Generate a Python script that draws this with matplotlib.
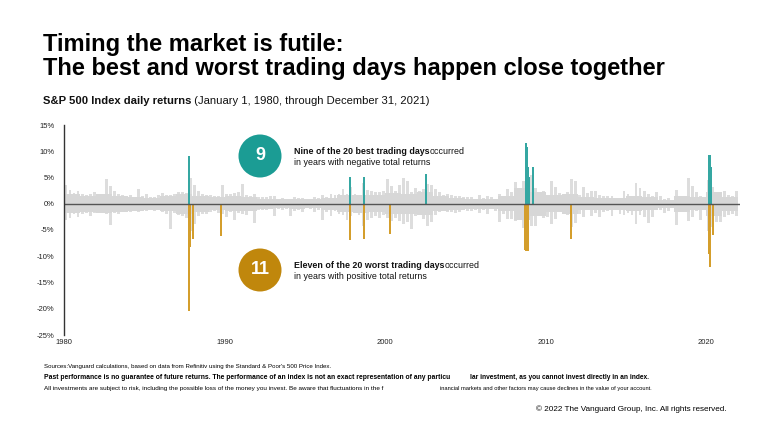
import matplotlib.pyplot as plt
import matplotlib.patches as mpatches
import numpy as np
import pandas as pd

W, H = 781, 429
FONT = ["Liberation Sans", "DejaVu Sans"]
plt.rcParams["font.family"] = FONT

TEAL_DOT = "#1b9c94"
GOLD_DOT = "#c0870c"
TEAL_BAR = "#35a7a2"
GOLD_BAR = "#d49e2c"
GREY_BODY = "#d7d7d7"
GREY_SPIKE = "#dddddd"

# typical size of the daily moves in each year, %, 1980 .. 2021 (the dense grey body)
body_years = list(range(1980, 2022))
grey_body = [
    1.8, 1.5, 1.8, 1.5, 1.3, 1.1, 1.4, 1.9, 1.5, 1.2,
    1.4, 1.3, 1.0, 0.9, 1.0, 0.9, 1.1, 1.6, 1.7, 1.6,
    2.0, 1.9, 2.2, 1.4, 1.1, 1.0, 1.0, 1.4, 3.0, 2.3,
    1.6, 1.9, 1.2, 1.1, 1.1, 1.4, 1.2, 0.8, 1.5, 1.2,
    2.3, 1.3,
]

# quarterly extremes of the daily return, %, 1980Q1 .. 2021Q4
grey_max = [
    3.5, 2.6, 2.0, 2.4,  1.8, 1.7, 1.9, 2.3,  1.8, 1.6, 4.8, 3.3,  2.4, 1.9, 1.7, 1.5,
    1.6, 1.3, 2.9, 1.5,  1.8, 1.2, 1.3, 1.7,  2.0, 1.7, 1.6, 1.9,  2.3, 2.2, 2.0, 4.9,
    3.6, 2.5, 1.8, 1.6,  1.6, 1.5, 1.4, 3.5,  1.9, 1.8, 2.0, 2.3,  3.7, 1.7, 1.4, 1.9,
    1.3, 1.3, 1.2, 1.4,  1.4, 1.0, 1.1, 1.0,  1.0, 1.2, 1.1, 1.1,  0.9, 1.0, 1.2, 1.1,
    1.6, 1.2, 1.8, 1.6,  1.8, 2.9, 1.8, 3.2,  1.9, 1.6, 3.9, 2.7,  2.4, 2.2, 2.2, 2.4,
    4.8, 3.4, 2.5, 3.6,  5.0, 4.4, 2.3, 3.0,  2.5, 2.8, 3.8, 3.5,  2.9, 2.3, 1.6, 1.8,
    1.6, 1.4, 1.4, 1.3,  1.2, 1.2, 1.0, 1.7,  1.1, 1.4, 1.3, 0.9,  1.9, 1.4, 2.9, 2.2,
    4.2, 2.8, 4.3, 4.8,  5.4, 3.0, 2.3, 2.5,  1.7, 4.4, 3.1, 2.1,  1.9, 2.3, 4.7, 4.3,
    1.6, 3.2, 2.0, 2.5,  2.5, 1.6, 1.4, 1.4,  1.5, 1.1, 1.1, 2.4,  1.9, 1.2, 3.9, 3.0,
    2.5, 1.8, 1.5, 2.2,  1.4, 0.9, 1.1, 0.8,  2.7, 1.2, 1.1, 5.0,  3.4, 2.3, 1.5, 1.3,
    4.6, 3.2, 2.0, 2.2,  2.4, 1.7, 1.5, 2.4,
]
grey_min = [
    -3.0, -2.8, -1.9, -2.6,  -2.0, -1.8, -2.4, -1.7,  -1.8, -1.7, -2.0, -4.0,  -1.8, -1.9, -1.6, -1.6,
    -1.6, -1.4, -1.5, -1.4,  -1.4, -1.1, -1.3, -1.1,  -1.6, -1.9, -4.8, -1.7,  -2.1, -2.3, -2.8, -5.2,
    -3.9, -2.4, -2.0, -1.9,  -1.6, -1.4, -1.7, -2.0,  -2.6, -1.6, -3.1, -1.8,  -1.9, -2.1, -1.3, -3.7,
    -1.1, -1.2, -1.1, -1.0,  -2.4, -1.0, -1.1, -1.0,  -2.3, -1.3, -1.2, -1.5,  -0.8, -1.0, -1.6, -1.1,
    -3.1, -1.5, -2.4, -1.4,  -2.0, -2.2, -3.1, -2.3,  -1.8, -2.1, -4.3, -3.0,  -2.8, -2.4, -2.7, -2.1,
    -2.8, -3.3, -2.7, -3.2,  -3.8, -3.4, -4.9, -2.3,  -2.0, -2.9, -4.2, -3.5,  -2.1, -1.6, -1.4, -1.6,
    -1.5, -1.7, -1.6, -1.1,  -1.4, -1.3, -1.1, -1.7,  -1.1, -1.9, -1.0, -1.4,  -3.5, -2.0, -2.9, -2.9,
    -3.3, -2.8, -4.7, -4.8,  -4.3, -4.3, -2.3, -2.7,  -2.6, -3.9, -2.9, -1.6,  -1.9, -2.2, -4.5, -3.7,
    -1.9, -2.5, -1.2, -2.4,  -1.8, -2.5, -1.6, -1.4,  -2.3, -1.0, -2.0, -2.1,  -1.8, -2.1, -3.9, -2.2,
    -2.5, -3.6, -2.5, -1.1,  -1.2, -1.8, -1.4, -0.5,  -4.1, -1.4, -0.7, -3.3,  -2.5, -1.3, -3.0, -1.2,
    -5.2, -4.4, -3.5, -3.5,  -2.6, -2.1, -2.0, -2.3,
]

best_dates = ["1987-10-20", "1987-10-21", "1997-10-28", "1998-09-08", "2002-07-24",
              "2002-07-29", "2008-09-30", "2008-10-13", "2008-10-28", "2008-11-13",
              "2008-11-21", "2008-11-24", "2008-12-16", "2009-03-10", "2009-03-23",
              "2020-03-13", "2020-03-17", "2020-03-24", "2020-03-26", "2020-04-06"]
best_returns = [5.33, 9.10, 5.12, 5.09, 5.73, 5.41, 5.42, 11.58, 10.79, 6.92,
                6.32, 6.47, 5.14, 6.37, 7.08, 9.29, 6.00, 9.38, 6.24, 7.03]

worst_dates = ["1987-10-19", "1987-10-26", "1988-01-08", "1989-10-13", "1997-10-27",
               "1998-08-31", "2000-04-14", "2008-09-29", "2008-10-07", "2008-10-09",
               "2008-10-15", "2008-10-22", "2008-11-19", "2008-11-20", "2008-12-01",
               "2011-08-08", "2020-03-09", "2020-03-12", "2020-03-16", "2020-06-11"]
worst_returns = [-20.47, -8.28, -6.77, -6.12, -6.87, -6.80, -5.83, -8.79, -5.74, -7.62,
                 -9.03, -6.10, -6.12, -6.71, -8.93, -6.66, -7.60, -9.51, -11.98, -5.89]

year_ticks = [1980, 1990, 2000, 2010, 2020]
pct_ticks = [15, 10, 5, 0, -5, -10, -15, -20, -25]


def decimal_year(dates):
    d = pd.to_datetime(dates)
    return d.year + (d.dayofyear - 1) / np.where(d.is_leap_year, 366, 365)


def fx(px):
    return px / W


def fy(py):
    return 1 - py / H


fig = plt.figure(figsize=(W / 100, H / 100), dpi=100)
ax = fig.add_axes([fx(64), fy(335), fx(740) - fx(64), fy(125) - fy(335)])

# grey background: dense body per year plus quarterly spikes
quarters = 1980 + np.arange(len(grey_max)) * 0.25 + 0.125
ax.bar(quarters, grey_max, width=0.18, color=GREY_SPIKE, lw=0)
ax.bar(quarters, grey_min, width=0.18, color=GREY_SPIKE, lw=0)
ax.bar(body_years, grey_body, width=1.0, align="edge", color=GREY_BODY, lw=0)
ax.bar(body_years, [-b for b in grey_body], width=1.0, align="edge", color=GREY_BODY, lw=0)

ax.bar(decimal_year(best_dates), best_returns, width=0.13, color=TEAL_BAR, lw=0)
ax.bar(decimal_year(worst_dates), worst_returns, width=0.13, color=GOLD_BAR, lw=0)
ax.axhline(0, color="#555555", lw=1.0)

ax.set_xlim(1980, 2022.1)
ax.set_ylim(-25, 15)
ax.set_xticks(year_ticks)
ax.set_xticklabels([str(y) for y in year_ticks], fontsize=5.5, color="#222222")
ax.set_yticks(pct_ticks)
ax.set_yticklabels([f"{p}%" for p in pct_ticks], fontsize=5.5, color="#222222")
ax.tick_params(length=0)
ax.tick_params(axis="y", pad=7)
ax.tick_params(axis="x", pad=3)
for s in ["top", "right", "bottom"]:
    ax.spines[s].set_visible(False)
ax.spines["left"].set_color("#333333")
ax.spines["left"].set_linewidth(1.0)

# titles
fig.text(fx(43), fy(44), "Timing the market is futile:", fontsize=17,
         fontweight="bold", va="center", ha="left")
fig.text(fx(43), fy(68), "The best and worst trading days happen close together",
         fontsize=17, fontweight="bold", va="center", ha="left")

fig.canvas.draw()
renderer = fig.canvas.get_renderer()


def mixed(x, y, bold, rest, size, gap=0.0):
    t = fig.text(fx(x), fy(y), bold, fontsize=size, fontweight="bold",
                 va="baseline", ha="left", color="#111111")
    bb = t.get_window_extent(renderer)
    fig.text((bb.x1 + gap) / W, fy(y), rest, fontsize=size, va="baseline",
             ha="left", color="#111111")


mixed(43, 104, "S&P 500 Index daily returns",
      " (January 1, 1980, through December 31, 2021)", 8.1)

# callouts
for cy, label, col in [(156, "9", TEAL_DOT), (270, "11", GOLD_DOT)]:
    circ = mpatches.Circle((260 / 100, (H - cy) / 100), 0.215, color=col,
                           transform=fig.dpi_scale_trans, lw=0)
    fig.add_artist(circ)
    fig.text(fx(260), fy(cy), label, fontsize=13, fontweight="bold",
             color="white", ha="center", va="center")

mixed(294, 154, "Nine of the 20 best trading days", "occurred", 6.4)
fig.text(fx(294), fy(165), "in years with negative total returns", fontsize=6.4,
         va="baseline", ha="left", color="#111111")
mixed(294, 268, "Eleven of the 20 worst trading days", "occurred", 6.4)
fig.text(fx(294), fy(279), "in years with positive total returns", fontsize=6.4,
         va="baseline", ha="left", color="#111111")

# footnotes
fig.text(fx(44), fy(368), "Sources:Vanguard calculations, based on data from Refinitiv "
         "using the Standard & Poor's 500 Price Index.", fontsize=4.4, va="baseline")
fig.text(fx(44), fy(379), "Past performance is no guarantee of future returns. The performance "
         "of an index is not an exact representation of any particu", fontsize=4.9,
         fontweight="bold", va="baseline")
fig.text(fx(470), fy(379), "lar investment, as you cannot invest directly in an index.",
         fontsize=4.8, fontweight="bold", va="baseline")
fig.text(fx(44), fy(390), "All investments are subject to risk, including the possible loss of "
         "the money you invest. Be aware that fluctuations in the f", fontsize=4.6,
         va="baseline")
fig.text(fx(440), fy(390), "inancial markets and other factors may cause declines in the "
         "value of your account.", fontsize=4.15, va="baseline")
fig.text(fx(727), fy(411), "\u00a9 2022 The Vanguard Group, Inc. All rights reserved.",
         fontsize=5.9, va="baseline", ha="right")

fig.savefig("out.png", dpi=100)
